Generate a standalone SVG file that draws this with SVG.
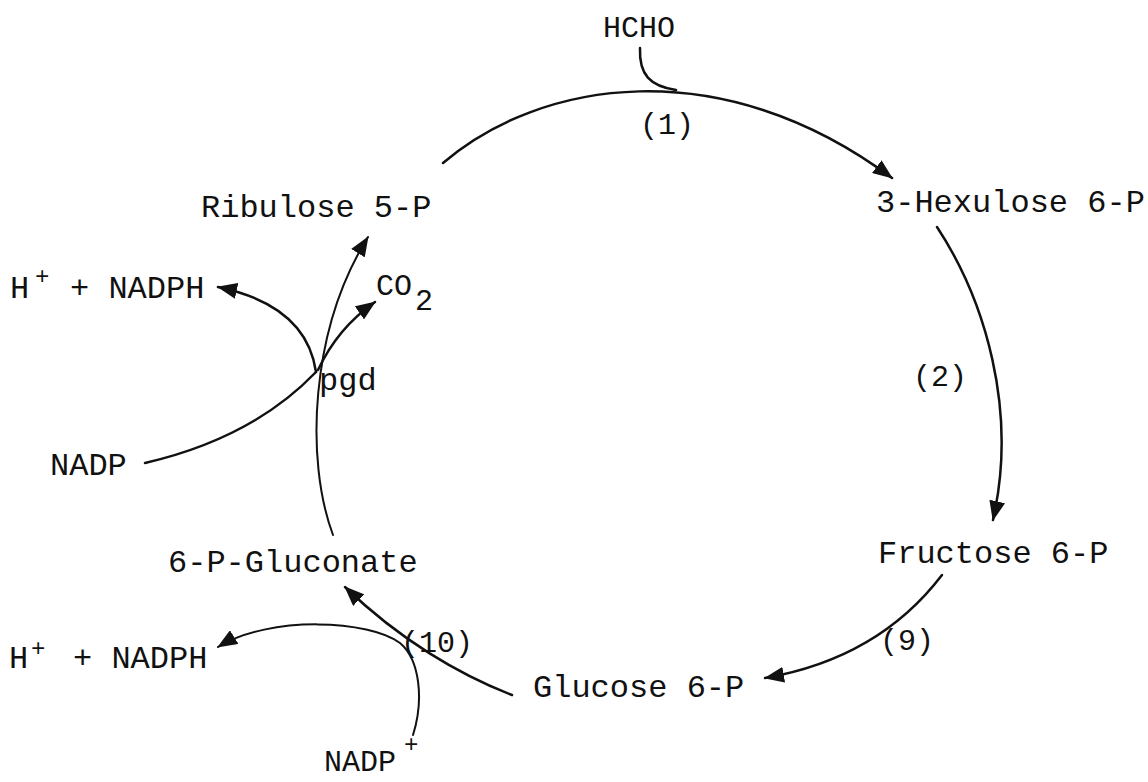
<svg xmlns="http://www.w3.org/2000/svg" width="1148" height="782" viewBox="0 0 1148 782">
  <defs>
    <style>
      .lbl { font-family: "Liberation Mono", "Courier New", monospace; font-size: 32px; fill: #111; }
      .sm { font-size: 30px; }
      .sup { font-size: 24px; }
      .step { font-size: 30px; }
      .wire { fill: none; stroke: #111; stroke-width: 2.5; stroke-linecap: round; }
      .thin { stroke-width: 2; }
      .arrow { marker-end: url(#head); }
    </style>
    <marker id="head" markerUnits="userSpaceOnUse" markerWidth="20" markerHeight="16" viewBox="0 0 20 16" refX="19" refY="8" orient="auto">
      <path d="M0,0 L20,8 L0,16 Z" fill="#111"/>
    </marker>
  </defs>
  <rect width="1148" height="782" fill="#fff"/>

  <!-- connectors of the ribulose monophosphate cycle -->
  <g id="connectors">
    <!-- (1) Ribulose 5-P + HCHO -> 3-Hexulose 6-P -->
    <path class="wire arrow" d="M443,163 C540,80 720,50 892,178"/>
    <path class="wire" d="M640,48 C639,75 650,86 676,90"/>
    <!-- (2) 3-Hexulose 6-P -> Fructose 6-P -->
    <path class="wire arrow" d="M937,227 C985,300 1018,410 993,520"/>
    <!-- (9) Fructose 6-P -> Glucose 6-P -->
    <path class="wire arrow" d="M942,575 C900,630 840,665 765,678"/>
    <!-- (10) Glucose 6-P -> 6-P-Gluconate -->
    <path class="wire arrow" d="M512,695 C460,675 400,640 345,587"/>
    <path class="wire thin arrow" d="M413,735 C424,700 420,660 400,643 C370,620 270,615 218,647"/>
    <!-- pgd: 6-P-Gluconate -> Ribulose 5-P -->
    <path class="wire thin arrow" d="M333,535 C305,460 310,330 368,237"/>
    <path class="wire" d="M145,463 C210,448 270,420 316,372"/>
    <path class="wire arrow" d="M316,372 C310,330 280,300 218,287"/>
    <path class="wire arrow" d="M318,370 C332,340 352,318 375,302"/>
  </g>

  <g id="hcho"><text class="lbl sm" x="603" y="37">HCHO</text></g>
  <g id="step1"><text class="lbl step" x="640" y="134">(1)</text></g>
  <g id="ribulose5p"><text class="lbl" x="201" y="217">Ribulose 5-P</text></g>
  <g id="hexulose6p"><text class="lbl" x="876" y="212">3-Hexulose 6-P</text></g>
  <g id="step2"><text class="lbl step" x="913" y="386">(2)</text></g>
  <g id="fructose6p"><text class="lbl" x="878" y="563">Fructose 6-P</text></g>
  <g id="step9"><text class="lbl step" x="880" y="650">(9)</text></g>
  <g id="glucose6p"><text class="lbl" x="533" y="697">Glucose 6-P</text></g>
  <g id="step10"><text class="lbl step" x="401" y="652">(10)</text></g>
  <g id="gluconate6p"><text class="lbl" x="168" y="572">6-P-Gluconate</text></g>
  <g id="pgd"><text class="lbl" x="319" y="390">pgd</text></g>
  <g id="co2">
    <text class="lbl sm" x="376" y="295">CO</text>
    <text class="lbl sm" x="415" y="310">2</text>
  </g>
  <g id="nadph-top">
    <text class="lbl" x="10" y="298">H</text>
    <text class="lbl sup" x="35" y="284">+</text>
    <text class="lbl" x="70" y="298">+ NADPH</text>
  </g>
  <g id="nadp-top"><text class="lbl" x="50" y="475">NADP</text></g>
  <g id="nadph-bottom">
    <text class="lbl" x="9" y="668">H</text>
    <text class="lbl sup" x="31" y="656">+</text>
    <text class="lbl" x="73" y="668">+ NADPH</text>
  </g>
  <g id="nadp-bottom">
    <text class="lbl sm" x="324" y="771">NADP</text>
    <text class="lbl sup" x="404" y="752">+</text>
  </g>
</svg>
